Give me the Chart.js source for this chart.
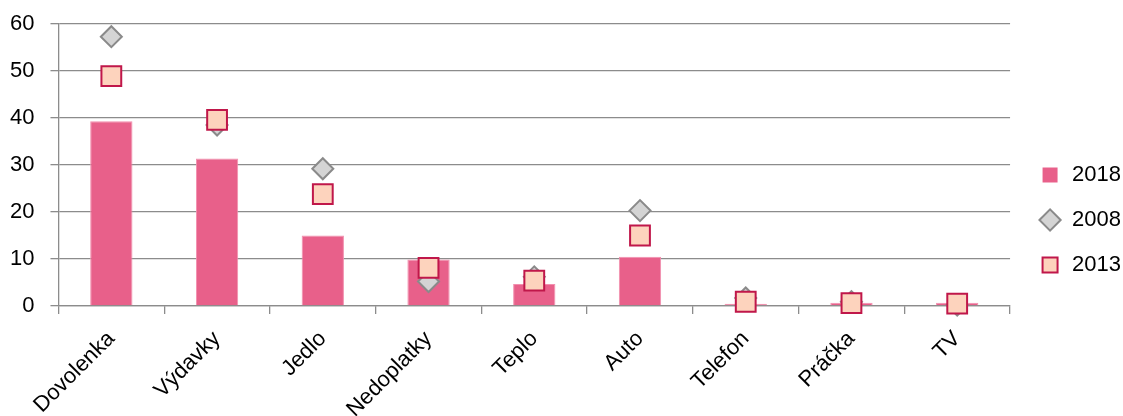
<!DOCTYPE html>
<html>
<head>
<meta charset="utf-8">
<script src="https://cdn.jsdelivr.net/npm/chart.js@4"></script>
<style>
  html, body { margin: 0; padding: 0; background: #fff; }
  #wrap { width: 1123px; height: 416px; position: relative; }
</style>
</head>
<body>
<div id="wrap"><canvas id="chart"></canvas></div>
<script>
// kategórie a hodnoty (odčítané z grafu)
const categories = ['Dovolenka', 'Výdavky', 'Jedlo', 'Nedoplatky', 'Teplo', 'Auto', 'Telefon', 'Práčka', 'TV'];
const values2018 = [39.3, 31.4, 15.0, 9.9, 4.7, 10.5, 0.5, 0.7, 0.7];
const values2008 = [57.3, 38.5, 29.2, 5.2, 6.2, 20.3, 1.7, 0.9, 0.2];
const values2013 = [48.9, 39.6, 23.8, 8.1, 5.4, 15.0, 0.9, 0.6, 0.5];
const yTicks = [0, 10, 20, 30, 40, 50, 60];

const gridColor = '#8c8c8c';
const font = { family: '"Liberation Sans", Arial, sans-serif', size: 22 };

// posunie legendu trochu doprava od grafu
const legendShift = {
    id: 'legendShift',
    afterLayout(chart) { chart.legend.left += 6; }
};

new Chart(document.getElementById('chart'), {
    type: 'bar',
    data: {
        labels: categories,
        datasets: [
            {
                label: '2018', data: values2018, order: 3,
                backgroundColor: '#e8608a', borderColor: '#f28fae', borderWidth: 1,
                categoryPercentage: 1, barPercentage: 0.4
            },
            {
                type: 'line', label: '2008', data: values2008, order: 2,
                showLine: false, clip: false,
                pointStyle: 'rectRot', pointRadius: 10.5, pointHoverRadius: 10.5,
                pointBackgroundColor: '#d4d4d4', pointBorderColor: '#8a8a8a', pointBorderWidth: 2,
                backgroundColor: '#d4d4d4', borderColor: '#8a8a8a', borderWidth: 2
            },
            {
                type: 'line', label: '2013', data: values2013, order: 1,
                showLine: false, clip: false,
                pointStyle: 'rect', pointRadius: 14, pointHoverRadius: 14,
                pointBackgroundColor: '#fdd3bd', pointBorderColor: '#c0174a', pointBorderWidth: 2,
                backgroundColor: '#fdd3bd', borderColor: '#c0174a', borderWidth: 2
            }
        ]
    },
    options: {
        responsive: true, maintainAspectRatio: false, animation: false,
        layout: { padding: { top: 24, right: -2, left: -6, bottom: 0 } },
        plugins: {
            tooltip: { enabled: false },
            legend: {
                position: 'right',
                labels: {
                    font, color: '#000', usePointStyle: true, boxHeight: 15, padding: 23,
                    sort: (a, b) => a.datasetIndex - b.datasetIndex,
                    generateLabels(chart) {
                        const items = Chart.defaults.plugins.legend.labels.generateLabels(chart);
                        items.forEach(it => {
                            if (it.datasetIndex === 0) { it.pointStyle = 'rect'; it.lineWidth = 0; it.strokeStyle = 'rgba(0,0,0,0)'; }
                            if (it.datasetIndex === 1) { it.pointStyle = 'rectRot'; it.fillStyle = '#d4d4d4'; it.strokeStyle = '#8a8a8a'; it.lineWidth = 2; }
                            if (it.datasetIndex === 2) { it.pointStyle = 'rect'; it.fillStyle = '#fdd3bd'; it.strokeStyle = '#c0174a'; it.lineWidth = 2; }
                        });
                        return items;
                    }
                }
            }
        },
        scales: {
            x: {
                offset: true,
                afterFit(scale) { scale.height = 110; scale.paddingLeft = 0; scale.paddingRight = 0; },
                grid: { offset: true, drawOnChartArea: false, drawTicks: true, tickLength: 8, color: gridColor, lineWidth: 1.3 },
                border: { display: true, color: gridColor, width: 1.3 },
                ticks: { font, color: '#000', minRotation: 45, maxRotation: 45, padding: 12 }
            },
            y: {
                min: 0, max: 60,
                afterBuildTicks: axis => { axis.ticks = yTicks.map(v => ({ value: v })); },
                afterFit(scale) { scale.paddingTop = 0; },
                grid: { color: gridColor, lineWidth: 1.3, tickLength: 8 },
                border: { display: true, color: gridColor, width: 1.3 },
                ticks: { font, color: '#000', padding: 16 }
            }
        }
    },
    plugins: [legendShift]
});
</script>
</body>
</html>
